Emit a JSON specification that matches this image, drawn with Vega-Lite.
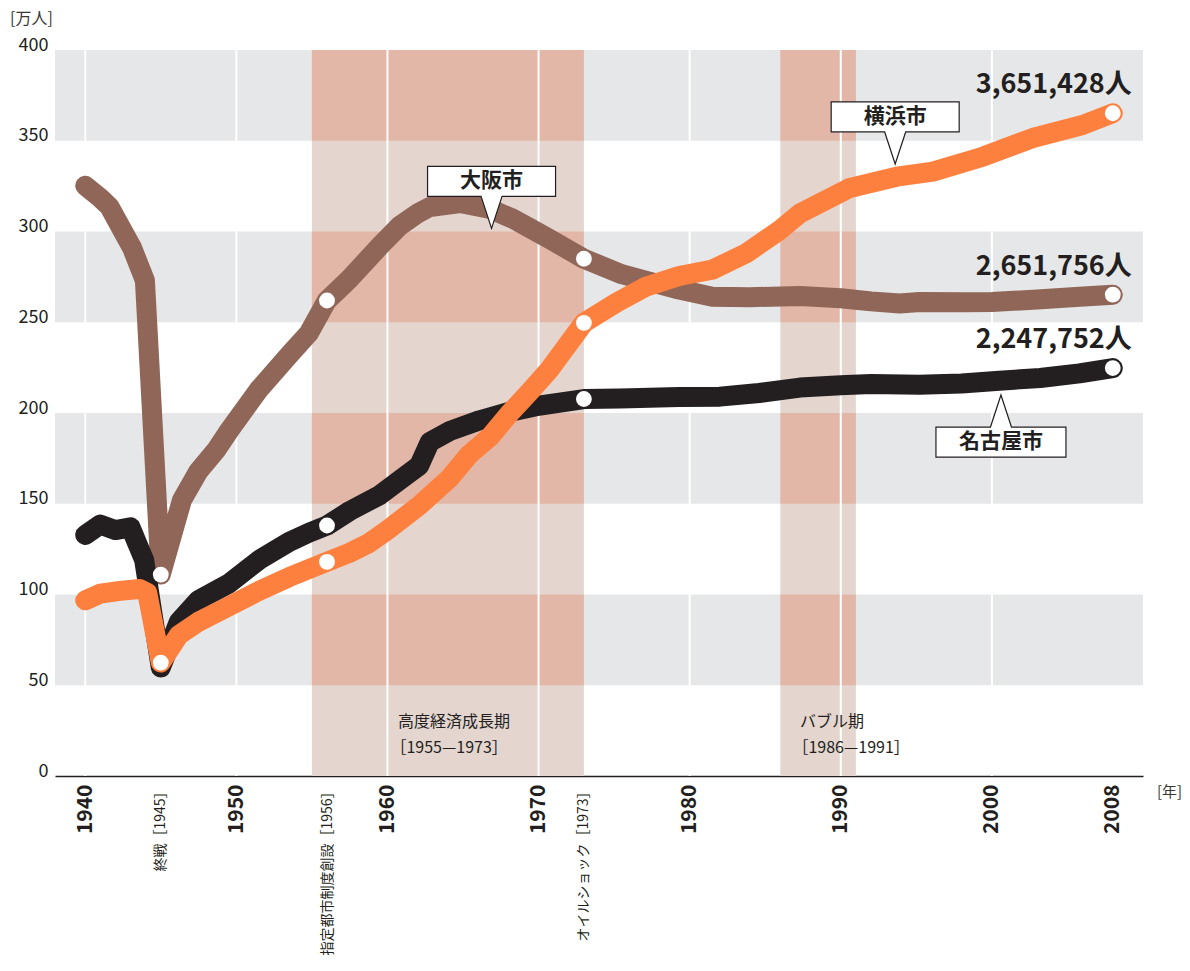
{
  "$schema": "https://vega.github.io/schema/vega-lite/v6.json",
  "autosize": {"type": "none"},
  "width": 1088,
  "height": 726,
  "padding": {"left": 55, "top": 50, "right": 47, "bottom": 195},
  "background": "white",
  "config": {
    "font": "Noto Sans CJK JP",
    "view": {"stroke": null}
  },
  "datasets": {
    "bands": [
      {"lo": 50, "hi": 100},
      {"lo": 150, "hi": 200},
      {"lo": 250, "hi": 300},
      {"lo": 350, "hi": 400}
    ],
    "periods": [
      {"start": 1955, "end": 1973},
      {"start": 1986, "end": 1991}
    ],
    "periodBands": [
      {"start": 1955, "end": 1973, "lo": 50, "hi": 100},
      {"start": 1955, "end": 1973, "lo": 150, "hi": 200},
      {"start": 1955, "end": 1973, "lo": 250, "hi": 300},
      {"start": 1955, "end": 1973, "lo": 350, "hi": 400},
      {"start": 1986, "end": 1991, "lo": 50, "hi": 100},
      {"start": 1986, "end": 1991, "lo": 150, "hi": 200},
      {"start": 1986, "end": 1991, "lo": 250, "hi": 300},
      {"start": 1986, "end": 1991, "lo": 350, "hi": 400}
    ],
    "grid": [
      {"year": 1940}, {"year": 1950}, {"year": 1960}, {"year": 1970},
      {"year": 1980}, {"year": 1990}, {"year": 2000}
    ],
    "pop": [
      {"city": "大阪市", "year": 1940, "value": 325.2, "dot": false},
      {"city": "大阪市", "year": 1941, "value": 318.5, "dot": false},
      {"city": "大阪市", "year": 1941.6, "value": 313.7, "dot": false},
      {"city": "大阪市", "year": 1943.1, "value": 291, "dot": false},
      {"city": "大阪市", "year": 1943.95, "value": 273, "dot": false},
      {"city": "大阪市", "year": 1945, "value": 111, "dot": true},
      {"city": "大阪市", "year": 1946.4, "value": 152, "dot": false},
      {"city": "大阪市", "year": 1947.5, "value": 168, "dot": false},
      {"city": "大阪市", "year": 1948.7, "value": 180, "dot": false},
      {"city": "大阪市", "year": 1949.5, "value": 190, "dot": false},
      {"city": "大阪市", "year": 1951.5, "value": 213, "dot": false},
      {"city": "大阪市", "year": 1953.5, "value": 232, "dot": false},
      {"city": "大阪市", "year": 1954.8, "value": 244, "dot": false},
      {"city": "大阪市", "year": 1956, "value": 262, "dot": true},
      {"city": "大阪市", "year": 1957.5, "value": 274, "dot": false},
      {"city": "大阪市", "year": 1959.5, "value": 292, "dot": false},
      {"city": "大阪市", "year": 1960.8, "value": 303, "dot": false},
      {"city": "大阪市", "year": 1962, "value": 310, "dot": false},
      {"city": "大阪市", "year": 1962.8, "value": 313.5, "dot": false},
      {"city": "大阪市", "year": 1964.8, "value": 315.7, "dot": false},
      {"city": "大阪市", "year": 1966.8, "value": 312.4, "dot": false},
      {"city": "大阪市", "year": 1968.3, "value": 307, "dot": false},
      {"city": "大阪市", "year": 1969.4, "value": 302, "dot": false},
      {"city": "大阪市", "year": 1970.7, "value": 296, "dot": false},
      {"city": "大阪市", "year": 1973, "value": 285, "dot": true},
      {"city": "大阪市", "year": 1975.5, "value": 276.5, "dot": false},
      {"city": "大阪市", "year": 1977.2, "value": 272.7, "dot": false},
      {"city": "大阪市", "year": 1979.3, "value": 268, "dot": false},
      {"city": "大阪市", "year": 1981.5, "value": 264, "dot": false},
      {"city": "大阪市", "year": 1984, "value": 263.8, "dot": false},
      {"city": "大阪市", "year": 1987.3, "value": 264.5, "dot": false},
      {"city": "大阪市", "year": 1990, "value": 263.2, "dot": false},
      {"city": "大阪市", "year": 1992, "value": 261.5, "dot": false},
      {"city": "大阪市", "year": 1993.9, "value": 260.3, "dot": false},
      {"city": "大阪市", "year": 1995.2, "value": 261.2, "dot": false},
      {"city": "大阪市", "year": 1998, "value": 261, "dot": false},
      {"city": "大阪市", "year": 2000, "value": 261.2, "dot": false},
      {"city": "大阪市", "year": 2003, "value": 262.5, "dot": false},
      {"city": "大阪市", "year": 2005.8, "value": 264, "dot": false},
      {"city": "大阪市", "year": 2008, "value": 265.1756, "dot": true},

      {"city": "名古屋市", "year": 1940, "value": 132.8, "dot": false},
      {"city": "名古屋市", "year": 1941, "value": 138.5, "dot": false},
      {"city": "名古屋市", "year": 1942, "value": 135.5, "dot": false},
      {"city": "名古屋市", "year": 1943, "value": 137, "dot": false},
      {"city": "名古屋市", "year": 1943.9, "value": 119, "dot": false},
      {"city": "名古屋市", "year": 1945, "value": 59.8, "dot": false},
      {"city": "名古屋市", "year": 1946.2, "value": 85, "dot": false},
      {"city": "名古屋市", "year": 1947.5, "value": 97, "dot": false},
      {"city": "名古屋市", "year": 1949.5, "value": 106, "dot": false},
      {"city": "名古屋市", "year": 1951.5, "value": 119, "dot": false},
      {"city": "名古屋市", "year": 1953.5, "value": 129, "dot": false},
      {"city": "名古屋市", "year": 1954.8, "value": 134, "dot": false},
      {"city": "名古屋市", "year": 1956, "value": 138, "dot": true},
      {"city": "名古屋市", "year": 1957.5, "value": 146, "dot": false},
      {"city": "名古屋市", "year": 1959.5, "value": 154.8, "dot": false},
      {"city": "名古屋市", "year": 1960.8, "value": 163, "dot": false},
      {"city": "名古屋市", "year": 1962.1, "value": 171, "dot": false},
      {"city": "名古屋市", "year": 1962.8, "value": 184, "dot": false},
      {"city": "名古屋市", "year": 1964.1, "value": 190, "dot": false},
      {"city": "名古屋市", "year": 1966.1, "value": 196, "dot": false},
      {"city": "名古屋市", "year": 1968, "value": 200.5, "dot": false},
      {"city": "名古屋市", "year": 1970, "value": 204, "dot": false},
      {"city": "名古屋市", "year": 1973, "value": 207.7, "dot": true},
      {"city": "名古屋市", "year": 1975.4, "value": 208, "dot": false},
      {"city": "名古屋市", "year": 1979.3, "value": 208.8, "dot": false},
      {"city": "名古屋市", "year": 1982, "value": 209, "dot": false},
      {"city": "名古屋市", "year": 1984.6, "value": 211, "dot": false},
      {"city": "名古屋市", "year": 1987.3, "value": 214, "dot": false},
      {"city": "名古屋市", "year": 1990, "value": 215.3, "dot": false},
      {"city": "名古屋市", "year": 1992, "value": 216, "dot": false},
      {"city": "名古屋市", "year": 1995.2, "value": 215.5, "dot": false},
      {"city": "名古屋市", "year": 1998, "value": 216.3, "dot": false},
      {"city": "名古屋市", "year": 2000.5, "value": 217.8, "dot": false},
      {"city": "名古屋市", "year": 2003.2, "value": 219.3, "dot": false},
      {"city": "名古屋市", "year": 2005.8, "value": 221.8, "dot": false},
      {"city": "名古屋市", "year": 2008, "value": 224.7752, "dot": true},

      {"city": "横浜市", "year": 1940, "value": 96.8, "dot": false},
      {"city": "横浜市", "year": 1941, "value": 100.5, "dot": false},
      {"city": "横浜市", "year": 1942.3, "value": 102, "dot": false},
      {"city": "横浜市", "year": 1943.6, "value": 103, "dot": false},
      {"city": "横浜市", "year": 1944.1, "value": 101, "dot": false},
      {"city": "横浜市", "year": 1945, "value": 62.5, "dot": true},
      {"city": "横浜市", "year": 1946.2, "value": 77.7, "dot": false},
      {"city": "横浜市", "year": 1947.5, "value": 85, "dot": false},
      {"city": "横浜市", "year": 1949.5, "value": 93.5, "dot": false},
      {"city": "横浜市", "year": 1951.5, "value": 102, "dot": false},
      {"city": "横浜市", "year": 1953.5, "value": 109.6, "dot": false},
      {"city": "横浜市", "year": 1956, "value": 118, "dot": true},
      {"city": "横浜市", "year": 1957.5, "value": 123, "dot": false},
      {"city": "横浜市", "year": 1958.8, "value": 128.4, "dot": false},
      {"city": "横浜市", "year": 1960, "value": 135.5, "dot": false},
      {"city": "横浜市", "year": 1962.1, "value": 149, "dot": false},
      {"city": "横浜市", "year": 1964.1, "value": 164, "dot": false},
      {"city": "横浜市", "year": 1965.4, "value": 177, "dot": false},
      {"city": "横浜市", "year": 1966.8, "value": 187, "dot": false},
      {"city": "横浜市", "year": 1968, "value": 199, "dot": false},
      {"city": "横浜市", "year": 1969.4, "value": 211.6, "dot": false},
      {"city": "横浜市", "year": 1970.7, "value": 223.7, "dot": false},
      {"city": "横浜市", "year": 1973, "value": 249.7, "dot": true},
      {"city": "横浜市", "year": 1975.2, "value": 261, "dot": false},
      {"city": "横浜市", "year": 1977.1, "value": 269.6, "dot": false},
      {"city": "横浜市", "year": 1979.3, "value": 275.5, "dot": false},
      {"city": "横浜市", "year": 1981.5, "value": 279, "dot": false},
      {"city": "横浜市", "year": 1983.75, "value": 288, "dot": false},
      {"city": "横浜市", "year": 1986, "value": 301, "dot": false},
      {"city": "横浜市", "year": 1987.3, "value": 310, "dot": false},
      {"city": "横浜市", "year": 1990.6, "value": 324, "dot": false},
      {"city": "横浜市", "year": 1993.7, "value": 330.2, "dot": false},
      {"city": "横浜市", "year": 1996.1, "value": 333, "dot": false},
      {"city": "横浜市", "year": 1999.4, "value": 341.2, "dot": false},
      {"city": "横浜市", "year": 2002.7, "value": 351.5, "dot": false},
      {"city": "横浜市", "year": 2006, "value": 358.7, "dot": false},
      {"city": "横浜市", "year": 2008, "value": 365.1428, "dot": true}
    ],
    "ends": [
      {"city": "横浜市", "year": 2008, "value": 365.1428, "label": "3,651,428人"},
      {"city": "大阪市", "year": 2008, "value": 265.1756, "label": "2,651,756人"},
      {"city": "名古屋市", "year": 2008, "value": 224.7752, "label": "2,247,752人"}
    ],
    "callouts": [
      {"name": "大阪市", "year": 1966.89, "value": 327.6, "side": "above"},
      {"name": "横浜市", "year": 1993.6, "value": 363.1, "side": "above"},
      {"name": "名古屋市", "year": 2000.6, "value": 184.0, "side": "below"}
    ],
    "periodLabels": [
      {"year": 1960.7, "value": 29.75, "text": "高度経済成長期"},
      {"year": 1960.2, "value": 15.4, "text": "［1955—1973］"},
      {"year": 1987.3, "value": 29.75, "text": "バブル期"},
      {"year": 1986.8, "value": 15.4, "text": "［1986—1991］"}
    ]
  },
  "layer": [
    {
      "data": {"name": "bands"},
      "mark": {"type": "rect", "color": "#e6e7e8"},
      "encoding": {
        "y": {
          "field": "lo",
          "type": "quantitative",
          "scale": {"domain": [0, 400], "nice": false, "zero": false},
          "axis": {
            "values": [0, 50, 100, 150, 200, 250, 300, 350, 400],
            "title": "[万人]",
            "titleAngle": 0,
            "titleX": -24,
            "titleY": -32,
            "titleAlign": "center",
            "titleBaseline": "middle",
            "titleFontSize": 16,
            "titleFontWeight": "normal",
            "titleColor": "#3a3637",
            "labelFontSize": 18,
            "labelColor": "#231f20",
            "labelPadding": 7,
            "labelBaseline": "alphabetic",
            "ticks": false,
            "domain": false,
            "grid": false
          }
        },
        "y2": {"field": "hi"}
      }
    },
    {
      "data": {"name": "periods"},
      "mark": {"type": "rect", "color": "#e4d5cf"},
      "encoding": {
        "x": {
          "field": "start",
          "type": "quantitative",
          "scale": {"domain": [1938, 2010], "nice": false, "zero": false},
          "axis": {
            "values": [1940, 1945, 1950, 1956, 1960, 1970, 1973, 1980, 1990, 2000, 2008],
            "labelExpr": "datum.value == 1945 ? '終戦［1945］' : datum.value == 1956 ? '指定都市制度創設［1956］' : datum.value == 1973 ? 'オイルショック［1973］' : '' + datum.value",
            "labelAngle": -90,
            "labelFontSize": {"condition": {"test": "datum.value == 1945 || datum.value == 1956 || datum.value == 1973", "value": 14}, "value": 21},
            "labelFontWeight": {"condition": {"test": "datum.value == 1945 || datum.value == 1956 || datum.value == 1973", "value": "normal"}, "value": "bold"},
            "labelColor": "#231f20",
            "labelPadding": 8,
            "labelOverlap": false,
            "labelBound": false,
            "labelFlush": false,
            "ticks": false,
            "grid": false,
            "domain": true,
            "domainColor": "#231f20",
            "domainWidth": 1.5,
            "title": "[年]",
            "titleX": 1114,
            "titleY": 15,
            "titleAlign": "center",
            "titleBaseline": "middle",
            "titleFontSize": 15,
            "titleFontWeight": "normal",
            "titleColor": "#3a3637"
          }
        },
        "x2": {"field": "end"}
      }
    },
    {
      "data": {"name": "periodBands"},
      "mark": {"type": "rect", "color": "#e3b7a8"},
      "encoding": {
        "x": {"field": "start", "type": "quantitative"},
        "x2": {"field": "end"},
        "y": {"field": "lo", "type": "quantitative"},
        "y2": {"field": "hi"}
      }
    },
    {
      "data": {"name": "grid"},
      "mark": {"type": "rule", "color": "white", "strokeWidth": 2},
      "encoding": {
        "x": {"field": "year", "type": "quantitative"}
      }
    },
    {
      "data": {"name": "pop"},
      "mark": {"type": "line", "strokeWidth": 20, "strokeCap": "round", "strokeJoin": "round"},
      "encoding": {
        "x": {"field": "year", "type": "quantitative"},
        "y": {"field": "value", "type": "quantitative"},
        "color": {
          "field": "city",
          "type": "nominal",
          "scale": {"domain": ["大阪市", "名古屋市", "横浜市"], "range": ["#8f6657", "#231f20", "#fe803e"]},
          "legend": null
        }
      }
    },
    {
      "data": {"name": "pop"},
      "transform": [{"filter": "datum.dot"}],
      "mark": {"type": "point", "shape": "circle", "filled": true, "color": "white", "opacity": 1, "size": 250},
      "encoding": {
        "x": {"field": "year", "type": "quantitative"},
        "y": {"field": "value", "type": "quantitative"}
      }
    },
    {
      "data": {"name": "ends"},
      "mark": {"type": "text", "align": "right", "baseline": "middle", "dx": 19, "dy": -28, "fontSize": 27, "fontWeight": "bold", "color": "#231f20"},
      "encoding": {
        "x": {"field": "year", "type": "quantitative"},
        "y": {"field": "value", "type": "quantitative"},
        "text": {"field": "label"}
      }
    },
    {
      "data": {"name": "callouts"},
      "mark": {"type": "point", "filled": true, "fill": "white", "stroke": "#231f20", "strokeWidth": 1.2, "opacity": 1, "size": 4},
      "encoding": {
        "x": {"field": "year", "type": "quantitative"},
        "y": {"field": "value", "type": "quantitative"},
        "shape": {
          "field": "side",
          "type": "nominal",
          "scale": {
            "domain": ["above", "below"],
            "range": [
              "M-64,-15L64,-15L64,15L10.5,15L0,47L-10.5,15L-64,15Z",
              "M-65,-15L-10.5,-15L0,-47L10.5,-15L65,-15L65,15L-65,15Z"
            ]
          },
          "legend": null
        }
      }
    },
    {
      "data": {"name": "callouts"},
      "mark": {"type": "text", "align": "center", "baseline": "middle", "fontSize": 21, "fontWeight": "bold", "color": "#231f20"},
      "encoding": {
        "x": {"field": "year", "type": "quantitative"},
        "y": {"field": "value", "type": "quantitative"},
        "text": {"field": "name"}
      }
    },
    {
      "data": {"name": "periodLabels"},
      "mark": {"type": "text", "align": "left", "baseline": "middle", "fontSize": 16, "color": "#231f20"},
      "encoding": {
        "x": {"field": "year", "type": "quantitative"},
        "y": {"field": "value", "type": "quantitative"},
        "text": {"field": "text"}
      }
    }
  ]
}
